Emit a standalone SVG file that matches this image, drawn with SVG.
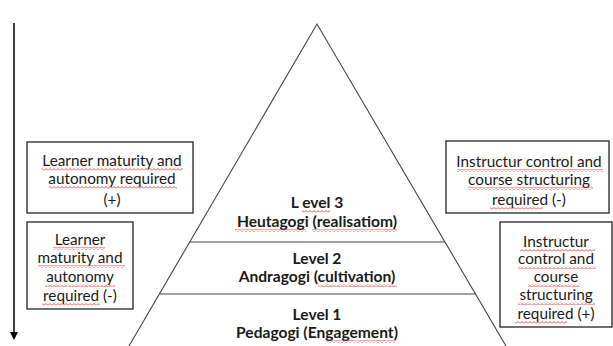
<svg xmlns="http://www.w3.org/2000/svg" width="613" height="346" viewBox="0 0 613 346">
<style>
.box{fill:#fff;stroke:#222;stroke-width:1.3}
.pyr{fill:none;stroke:#444;stroke-width:1.1}
.t{font-family:Lato,"Open Sans",sans-serif;font-size:15.3px;fill:#1a1a1a;text-anchor:middle}
.b{font-weight:bold;font-size:15.6px}
.sq{fill:url(#wave)}
</style>
<defs>
<pattern id="wave" width="4" height="3" patternUnits="userSpaceOnUse">
<path d="M0,2.5 L2,0.5 L4,2.5" fill="none" stroke="#e02020" stroke-width="0.8"/>
</pattern>
</defs>
<rect width="613" height="346" fill="#fff"/>
<g id="connectors">
<line x1="14" y1="23" x2="14" y2="333" stroke="#000" stroke-width="1.5"/>
<path d="M10,332 L18,332 L14,340 Z" fill="#000"/>
</g>
<g id="pyramid">
<path class="pyr" d="M129,346 L317,24 L506,346"/>
<line class="pyr" x1="190" y1="242" x2="445" y2="242"/>
<line class="pyr" x1="160" y1="294" x2="476" y2="294"/>
</g>
<g id="level3">
<text class="t b" x="317" y="208">L evel 3</text>
<text class="t b" x="317" y="227">Heutagogi (realisatiom)</text>
<rect class="sq" x="302" y="210" width="28" height="3"/>
<rect class="sq" x="235" y="229" width="71" height="3"/>
<rect class="sq" x="312" y="229" width="85" height="3"/>
</g>
<g id="level2">
<text class="t b" x="317" y="264">Level 2</text>
<text class="t b" x="317" y="282">Andragogi (cultivation)</text>
<rect class="sq" x="318" y="284" width="79" height="3"/>
</g>
<g id="level1">
<text class="t b" x="317" y="320">Level 1</text>
<text class="t b" x="317" y="338">Pedagogi (Engagement)</text>
<rect class="sq" x="327" y="340" width="68" height="3"/>
</g>
<g id="box-learner-plus">
<rect class="box" x="27" y="142" width="166" height="71"/>
<text class="t" x="112" y="166">Learner maturity and</text>
<text class="t" x="112" y="184">autonomy required</text>
<text class="t" x="112" y="205">(+)</text>
<rect class="sq" x="42" y="168" width="141" height="3"/>
<rect class="sq" x="49" y="186" width="128" height="3"/>
</g>
<g id="box-learner-minus">
<rect class="box" x="27" y="222" width="106" height="87"/>
<text class="t" x="80" y="245">Learner</text>
<text class="t" x="80" y="263">maturity and</text>
<text class="t" x="80" y="282">autonomy</text>
<text class="t" x="80" y="301">required (-)</text>
<rect class="sq" x="53" y="247" width="52" height="3"/>
<rect class="sq" x="38" y="265" width="87" height="3"/>
<rect class="sq" x="45" y="284" width="70" height="3"/>
<rect class="sq" x="42" y="303" width="58" height="3"/>
</g>
<g id="box-instructor-minus">
<rect class="box" x="446" y="141" width="163" height="72"/>
<text class="t" x="529" y="167">Instructur control and</text>
<text class="t" x="529" y="185">course structuring</text>
<text class="t" x="529" y="205">required (-)</text>
<rect class="sq" x="457" y="169" width="146" height="3"/>
<rect class="sq" x="468" y="187" width="125" height="3"/>
<rect class="sq" x="490" y="207" width="53" height="3"/>
</g>
<g id="box-instructor-plus">
<rect class="box" x="500" y="222" width="112" height="105"/>
<text class="t" x="556" y="247">Instructur</text>
<text class="t" x="556" y="264">control and</text>
<text class="t" x="556" y="282">course</text>
<text class="t" x="556" y="300">structuring</text>
<text class="t" x="556" y="319">required (+)</text>
<rect class="sq" x="520" y="249" width="75" height="3"/>
<rect class="sq" x="518" y="266" width="78" height="3"/>
<rect class="sq" x="528" y="284" width="52" height="3"/>
<rect class="sq" x="518" y="302" width="77" height="3"/>
<rect class="sq" x="515" y="321" width="52" height="3"/>
</g>
</svg>
